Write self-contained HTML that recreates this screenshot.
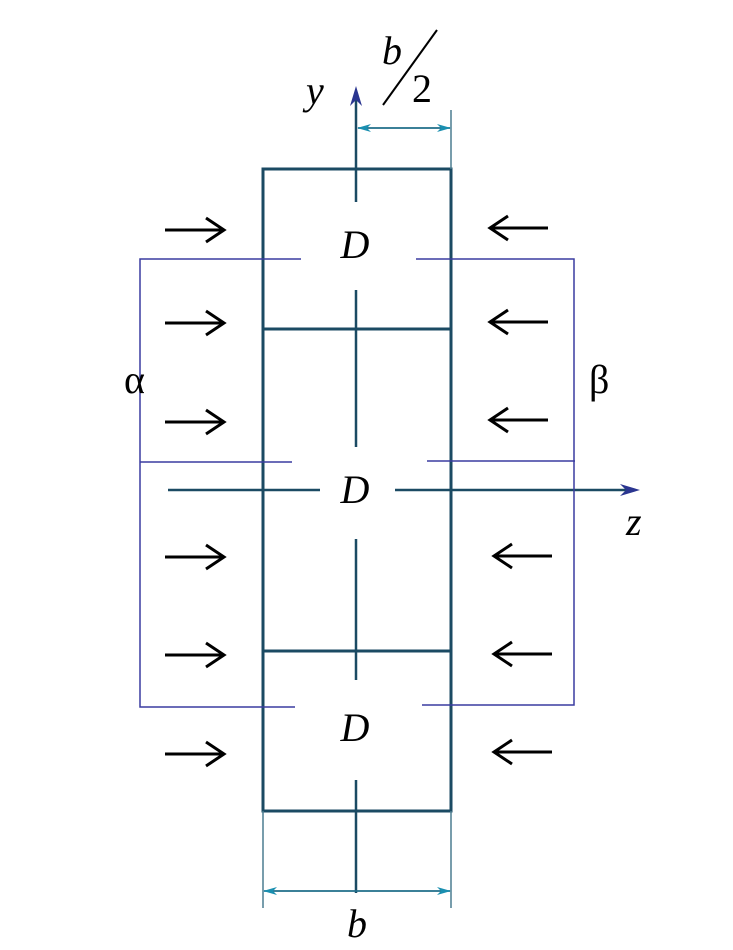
<!DOCTYPE html>
<html><head><meta charset="utf-8"><style>html,body{margin:0;padding:0;background:#fff}</style></head>
<body>
<svg width="733" height="945" viewBox="0 0 733 945" xmlns="http://www.w3.org/2000/svg">
<defs>
<marker id="cy" markerWidth="14" markerHeight="8" refX="13" refY="4" orient="auto" markerUnits="userSpaceOnUse"><path d="M0,0 L14,4 L0,8 L4,4 Z" fill="#1a8fb0"/></marker>
<marker id="cys" markerWidth="14" markerHeight="8" refX="1" refY="4" orient="auto" markerUnits="userSpaceOnUse"><path d="M14,0 L0,4 L14,8 L10,4 Z" fill="#1a8fb0"/></marker>
<g id="r" stroke="#000" stroke-width="3" fill="none"><line x1="165" y1="0" x2="222" y2="0"/><polyline points="206,-12 224,0 206,12"/></g>
<g id="l" stroke="#000" stroke-width="3" fill="none"><line x1="492" y1="0" x2="548" y2="0"/><polyline points="508,-12 490,0 508,12"/></g>
</defs>
<g stroke="#1b4a63" stroke-width="3" fill="none">
<rect x="263" y="169" width="188" height="642"/>
<line x1="263" y1="329" x2="451" y2="329"/>
<line x1="263" y1="651" x2="451" y2="651"/>
</g>
<g stroke="#1b4a63" stroke-width="2.5">
<line x1="356" y1="96" x2="356" y2="202"/>
<line x1="356" y1="290" x2="356" y2="447"/>
<line x1="356" y1="539" x2="356" y2="680"/>
<line x1="356" y1="780" x2="356" y2="893"/>
<line x1="168" y1="490" x2="320" y2="490"/>
<line x1="395" y1="490" x2="632" y2="490"/>
</g>
<path d="M350,106 L356,86 L362,106 L356,100 Z" fill="#2a3590"/>
<path d="M620,484 L640,490 L620,496 L626,490 Z" fill="#2a3590"/>
<g stroke="#3a3ca0" stroke-width="1.5" fill="none">
<polyline points="301,259 140,259 140,707 295,707"/>
<line x1="140" y1="462" x2="292" y2="462"/>
<polyline points="416,259 574,259 574,705 422,705"/>
<line x1="427" y1="461" x2="575" y2="461"/>
</g>
<g stroke="#4a7c90" stroke-width="1.5">
<line x1="451" y1="110" x2="451" y2="169"/>
<line x1="263" y1="811" x2="263" y2="908"/>
<line x1="451" y1="811" x2="451" y2="908"/>
</g>
<g stroke="#1f6e8a" stroke-width="1.8">
<line x1="358" y1="128" x2="450" y2="128" marker-start="url(#cys)" marker-end="url(#cy)"/>
<line x1="264" y1="891" x2="450" y2="891" marker-start="url(#cys)" marker-end="url(#cy)"/>
</g>
<use href="#r" y="230"/><use href="#r" y="323"/><use href="#r" y="422"/>
<use href="#r" y="557"/><use href="#r" y="655"/><use href="#r" y="754"/>
<use href="#l" y="228"/><use href="#l" y="322"/><use href="#l" y="420"/>
<use href="#l" x="4" y="556"/><use href="#l" x="4" y="654"/><use href="#l" x="4" y="752"/>
<line x1="383" y1="105" x2="437" y2="30" stroke="#000" stroke-width="2"/>
<g font-family="Liberation Serif, serif" font-size="40" fill="#000">
<text x="355" y="258" font-style="italic" text-anchor="middle">D</text>
<text x="355" y="503" font-style="italic" text-anchor="middle">D</text>
<text x="355" y="741" font-style="italic" text-anchor="middle">D</text>
<text x="382" y="64" font-style="italic">b</text>
<text x="412" y="102">2</text>
<text x="306" y="104" font-style="italic">y</text>
<text x="626" y="535" font-style="italic">z</text>
<text x="347" y="937" font-style="italic">b</text>
<text x="124" y="393">α</text>
<text x="589" y="393">β</text>
</g>
</svg>
</body></html>
